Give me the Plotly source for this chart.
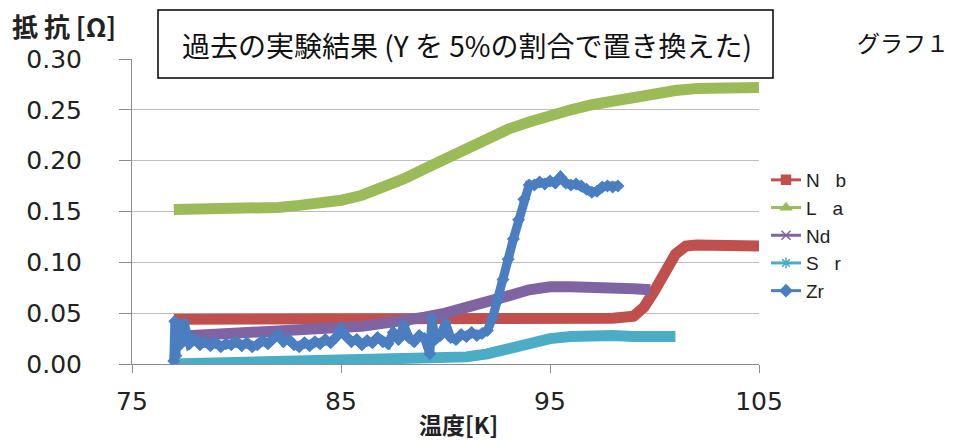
import plotly.graph_objects as go

# ---------------- data ----------------
nb_t = [77.0, 80, 85, 90, 95, 98, 99.0, 99.5, 100.0, 100.5, 101.0, 101.5, 102, 105.0]
nb_r = [0.044, 0.044, 0.044, 0.045, 0.045, 0.045, 0.047, 0.056, 0.072, 0.092, 0.108, 0.116, 0.117, 0.116]

la_t = [77.0, 78, 79, 80, 81, 82, 83, 84, 85, 86, 87, 88, 89, 90, 91, 92, 93, 94, 95,
        96, 97, 98, 99, 100, 101, 102, 103, 104, 105.0]
la_r = [0.152, 0.152, 0.152, 0.152, 0.153, 0.154, 0.156, 0.158, 0.161, 0.166, 0.173, 0.182,
        0.192, 0.202, 0.212, 0.222, 0.231, 0.238, 0.245, 0.250, 0.255, 0.259, 0.263, 0.266,
        0.269, 0.271, 0.272, 0.272, 0.272]

nd_t = [77.0, 78, 80, 82, 84, 86, 87, 88, 89, 90, 91, 92, 93, 94, 94.5, 95, 96, 97, 98, 99, 99.8]
nd_r = [0.027, 0.028, 0.030, 0.032, 0.034, 0.037, 0.040, 0.042, 0.046, 0.050, 0.055, 0.061,
        0.067, 0.073, 0.075, 0.076, 0.076, 0.076, 0.075, 0.074, 0.073]

sr_t = [77.0, 80, 83, 85, 87, 89, 90, 91, 92, 93, 94, 95, 96, 97, 98, 99, 100, 101.0]
sr_r = [0.000, 0.001, 0.002, 0.003, 0.004, 0.005, 0.006, 0.007, 0.010, 0.015, 0.020, 0.025,
        0.027, 0.028, 0.028, 0.027, 0.027, 0.027]

zr_t = [77.00, 77.05, 77.10, 77.15, 77.25, 77.5, 77.75, 78.0, 78.25, 78.5, 78.75, 79.0, 79.25,
        79.5, 79.75, 80.0, 80.25, 80.5, 80.75, 81.0, 81.25, 81.5, 81.75, 82.0, 82.25, 82.5,
        82.75, 83.0, 83.25, 83.5, 83.75, 84.0, 84.25, 84.5, 84.75, 85.0, 85.25, 85.5, 85.75,
        86.0, 86.25, 86.5, 86.75, 87.0, 87.25, 87.5, 87.75, 88.0, 88.25, 88.5, 88.75, 89.0,
        89.25, 89.35, 89.5, 89.75, 90.0, 90.25, 90.5, 90.75, 91.0, 91.25, 91.5, 91.75, 92.0,
        92.25, 92.5, 92.75, 93.0, 93.25, 93.5, 93.75, 94.0, 94.25, 94.5, 94.75, 95.0, 95.25,
        95.5, 95.75, 96.0, 96.25, 96.5, 96.75, 97.0, 97.25, 97.5, 97.75, 98.0, 98.25]
zr_r = [0.003, 0.042, 0.008, 0.035, 0.018, 0.040, 0.020, 0.024, 0.019, 0.022, 0.018, 0.021, 0.017,
        0.020, 0.019, 0.022, 0.018, 0.021, 0.017, 0.019, 0.023, 0.020, 0.025, 0.029, 0.022, 0.024,
        0.019, 0.017, 0.021, 0.018, 0.022, 0.020, 0.024, 0.021, 0.026, 0.034, 0.027, 0.022, 0.024,
        0.019, 0.023, 0.021, 0.026, 0.022, 0.020, 0.031, 0.024, 0.038, 0.026, 0.022, 0.028, 0.025,
        0.010, 0.045, 0.024, 0.028, 0.040, 0.026, 0.024, 0.029, 0.027, 0.031, 0.028, 0.030, 0.033,
        0.045, 0.062, 0.083, 0.103, 0.123, 0.142, 0.162, 0.176, 0.176, 0.179, 0.177, 0.180, 0.178,
        0.184, 0.178, 0.176, 0.177, 0.175, 0.172, 0.169, 0.170, 0.174, 0.175, 0.174, 0.175]

names = ["N\u00a0\u00a0\u00a0b", "L\u00a0\u00a0\u00a0a", "Nd", "S\u00a0\u00a0\u00a0r", "Zr"]
colors = ["#C0504D", "#9BBB59", "#8064A2", "#4BACC6", "#4A7EC0"]
symbols = ["square", "triangle-up", "x-thin-open", "asterisk-open", "diamond"]
series = [(nb_t, nb_r), (la_t, la_r), (nd_t, nd_r), (sr_t, sr_r), (zr_t, zr_r)]
widths = [11, 11, 11, 11, 9]

x_ticks = [75, 85, 95, 105]
y_ticks = [0.00, 0.05, 0.10, 0.15, 0.20, 0.25, 0.30]

# ---------------- layout helpers (pixel -> paper) ----------------
L, R, T, B = 132, 759, 59, 364
def px(x):
    return (x - L) / (R - L)
def py(y):
    return (B - y) / (B - T)

fig = go.Figure()
for (t, r), c, w, s in zip(series, colors, widths, symbols):
    is_zr = (s == "diamond")
    fig.add_trace(go.Scatter(x=t, y=r, mode="lines+markers" if is_zr else "lines",
                             line=dict(color=c, width=w),
                             marker=dict(symbol="diamond", size=10, color=c),
                             showlegend=False, hoverinfo="skip"))
for c, n, s in zip(colors, names, symbols):
    fig.add_trace(go.Scatter(x=[None], y=[None], mode="lines+markers", name=n,
                             line=dict(color=c, width=3),
                             marker=dict(symbol=s, size=9, color=c, line=dict(color=c, width=1.5))))

axis_font = dict(family="DejaVu Sans", size=25, color="#222222")
fig.update_layout(
    width=961, height=441,
    margin=dict(l=L, r=961 - R, t=T, b=441 - B),
    paper_bgcolor="white", plot_bgcolor="white",
    showlegend=True,
    legend=dict(x=px(766), y=py(161), xanchor="left", yanchor="top",
                font=dict(family="Liberation Sans", size=19, color="#222222"),
                bgcolor="rgba(0,0,0,0)", itemwidth=30, tracegroupgap=0),
    xaxis=dict(range=[75, 105], tickvals=x_ticks, ticktext=[str(v) for v in x_ticks],
               showgrid=False, showline=True, linecolor="#8C8C8C", linewidth=1,
               ticks="outside", ticklen=8, tickcolor="#8C8C8C", tickfont=axis_font,
               ticklabelstandoff=7, zeroline=False),
    yaxis=dict(range=[0, 0.30], tickvals=y_ticks, tickformat=".2f",
               showgrid=True, gridcolor="#BDBDBD", gridwidth=1,
               showline=True, linecolor="#8C8C8C", linewidth=1,
               ticks="outside", ticklen=12, tickcolor="#8C8C8C", tickfont=axis_font,
               ticklabelstandoff=32, zeroline=False),
)

# title box
fig.add_shape(type="rect", xref="paper", yref="paper",
              x0=px(158), x1=px(773), y0=py(78), y1=py(10),
              line=dict(color="black", width=1.5), fillcolor="white", layer="above")
fig.add_annotation(xref="paper", yref="paper", x=px(180), y=py(45), xanchor="left", yanchor="middle",
                   text="過去の実験結果 (Y を 5%の割合で置き換えた)", showarrow=False,
                   font=dict(family="Noto Sans CJK JP", size=28, color="#111111"))
fig.add_annotation(xref="paper", yref="paper", x=px(903), y=py(42), xanchor="center", yanchor="middle",
                   text="グラフ１", showarrow=False,
                   font=dict(family="Noto Sans CJK JP", size=23, color="#111111"))
fig.add_annotation(xref="paper", yref="paper", x=px(10), y=py(25), xanchor="left", yanchor="middle",
                   text="<b>抵 抗 [Ω]</b>", showarrow=False,
                   font=dict(family="Noto Sans CJK JP", size=26, color="#222222"))
fig.add_annotation(xref="paper", yref="paper", x=px(458), y=py(424), xanchor="center", yanchor="middle",
                   text="<b>温度[K]</b>", showarrow=False,
                   font=dict(family="Noto Sans CJK JP", size=23, color="#222222"))

fig.write_html("out.html")
